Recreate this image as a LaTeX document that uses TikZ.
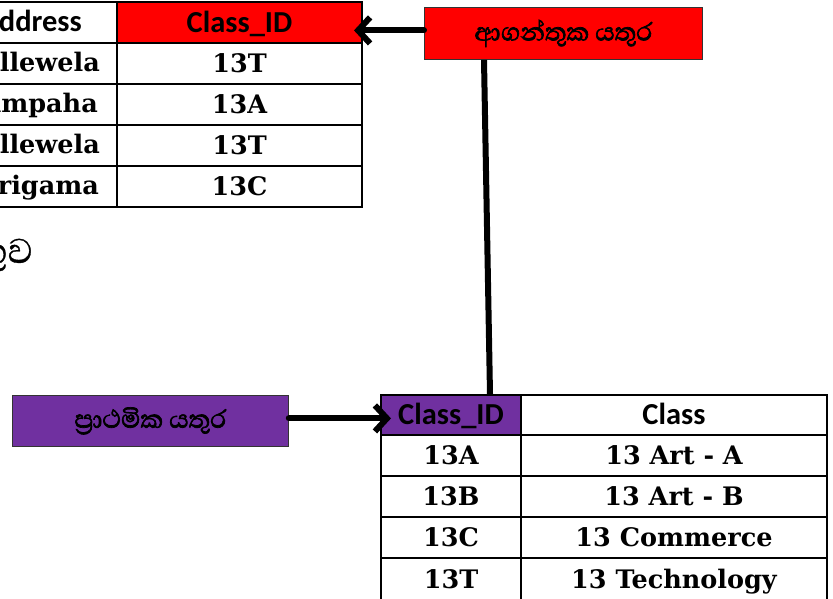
\documentclass[tikz,border=0pt]{standalone}
\usepackage{fontspec}
\usetikzlibrary{arrows.meta}
\newfontfamily\serifbf{DejaVu Serif}
\newfontfamily\calib{Carlito}
\newfontfamily\sinfont[Script=Sinhala, FakeBold=0.8]{Abhaya Libre}
\newfontfamily\sinbold[Script=Sinhala, FakeBold=2.2]{Abhaya Libre}
\definecolor{fkred}{HTML}{FF0000}
\definecolor{pkpurple}{HTML}{7030A0}
\begin{document}
\begin{tikzpicture}[x=1pt,y=-1pt,
  cellbox/.style={draw=black, line width=2pt, rectangle, inner sep=0pt, anchor=north west},
  bodytext/.style={font=\serifbf\bfseries\fontsize{25.5}{25.5}\selectfont, text height=18.6pt, text depth=0pt},
  hdrtext/.style={font=\calib\bfseries\fontsize{30.5}{30.5}\selectfont, text height=19.6pt, text depth=0pt},
  keybox/.style={draw=black!80, line width=0.8pt, rectangle, inner sep=0pt, anchor=north west,
     font=\sinbold\fontsize{32}{32}\selectfont},
  conn/.style={line width=6pt, line cap=round, line join=round, -{Straight Barb[length=12pt,width=26pt]}},
  plainconn/.style={line width=6pt},
]
\useasboundingbox (0,0) rectangle (833,598);

% ---- top table (left column partly off page) ----
\node[cellbox, minimum width=136pt, minimum height=41pt] (l0) at (-20,1) {};
\node[cellbox, minimum width=136pt, minimum height=41pt] (l1) at (-20,42) {};
\node[cellbox, minimum width=136pt, minimum height=41pt] (l2) at (-20,83) {};
\node[cellbox, minimum width=136pt, minimum height=41pt] (l3) at (-20,124) {};
\node[cellbox, minimum width=136pt, minimum height=41pt] (l4) at (-20,165) {};
\node[hdrtext, anchor=east, inner sep=0pt] (lt0) at (82,21.5) {Address};
\node[bodytext, anchor=east, inner sep=0pt] (lt1) at (100,62.5) {Pallewela};
\node[bodytext, anchor=east, inner sep=0pt] (lt2) at (98,103.5) {Gampaha};
\node[bodytext, anchor=east, inner sep=0pt] (lt3) at (100,144.5) {Pallewela};
\node[bodytext, anchor=east, inner sep=0pt] (lt4) at (99,185.5) {Mirigama};

\node[cellbox, hdrtext, fill=fkred, minimum width=245pt, minimum height=41pt] (a0) at (116,1) {Class\_ID};
\node[cellbox, bodytext, minimum width=245pt, minimum height=41pt] (a1) at (116,42) {13T};
\node[cellbox, bodytext, minimum width=245pt, minimum height=41pt] (a2) at (116,83) {13A};
\node[cellbox, bodytext, minimum width=245pt, minimum height=41pt] (a3) at (116,124) {13T};
\node[cellbox, bodytext, minimum width=245pt, minimum height=41pt] (a4) at (116,165) {13C};

% ---- partly visible caption ----
\node[font=\sinfont\fontsize{44}{44}\selectfont, anchor=base east, inner sep=0pt] (cap) at (33,263) {වගුව};

% ---- bottom table ----
\node[cellbox, hdrtext, fill=pkpurple, minimum width=140pt, minimum height=40pt] (b0) at (380,394) {Class\_ID};
\node[cellbox, bodytext, minimum width=140pt, minimum height=41pt] (b1) at (380,434) {13A};
\node[cellbox, bodytext, minimum width=140pt, minimum height=41pt] (b2) at (380,475) {13B};
\node[cellbox, bodytext, minimum width=140pt, minimum height=41pt] (b3) at (380,516) {13C};
\node[cellbox, bodytext, minimum width=140pt, minimum height=42pt] (b4) at (380,557) {13T};
\node[cellbox, hdrtext, minimum width=306pt, minimum height=40pt] (c0) at (520,394) {Class};
\node[cellbox, bodytext, minimum width=306pt, minimum height=41pt] (c1) at (520,434) {13 Art - A};
\node[cellbox, bodytext, minimum width=306pt, minimum height=41pt] (c2) at (520,475) {13 Art - B};
\node[cellbox, bodytext, minimum width=306pt, minimum height=41pt] (c3) at (520,516) {13 Commerce};
\node[cellbox, bodytext, minimum width=306pt, minimum height=42pt] (c4) at (520,557) {13 Technology};

% ---- key boxes ----
\node[keybox, fill=fkred, minimum width=278pt, minimum height=52pt] (fk) at (424,7) {ආගන්තුක යතුර};
\node[keybox, fill=pkpurple, minimum width=276pt, minimum height=51pt] (pk) at (12,395) {ප්^^^^200dරාථමික යතුර};

% ---- connectors ----
\draw[conn, shorten >=-9pt] ([yshift=3pt]fk.west) -- ([yshift=3pt]fk.west -| a0.east);
\draw[conn, shorten >=-11pt] ([yshift=2.5pt]pk.east) -- ([yshift=2.5pt]pk.east -| b0.west);
\draw[plainconn] ([xshift=60pt]fk.south west) -- ([xshift=110pt]b0.north west);
\end{tikzpicture}
\end{document}
